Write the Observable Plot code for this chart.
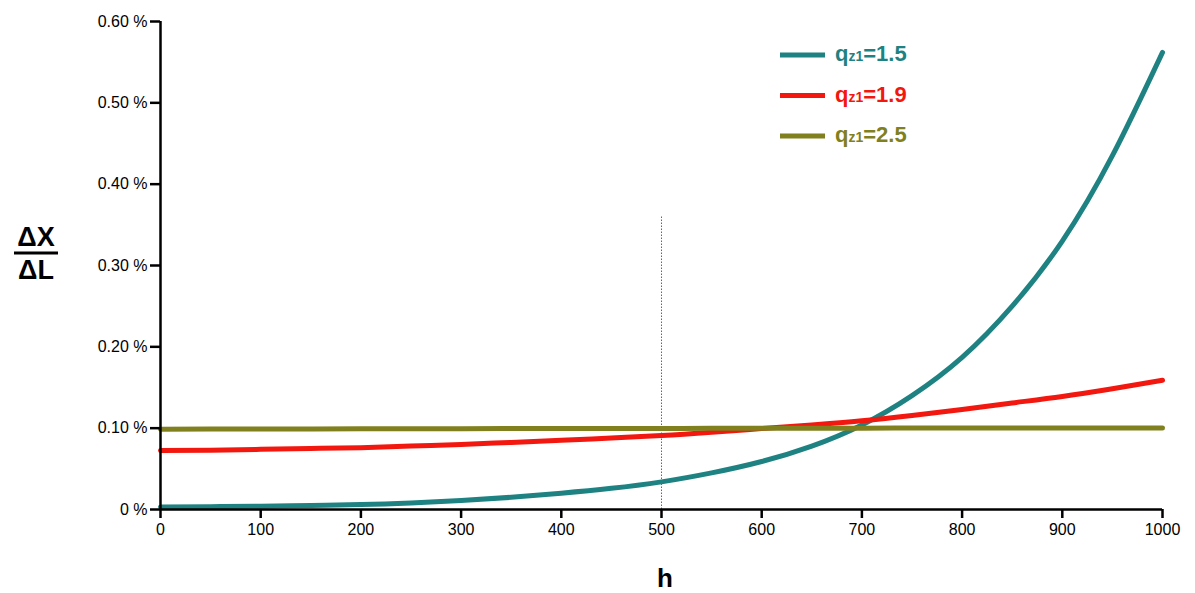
<!DOCTYPE html>
<html>
<head>
<meta charset="utf-8">
<script src="https://cdn.jsdelivr.net/npm/d3@7"></script>
<script src="https://cdn.jsdelivr.net/npm/@observablehq/plot@0.6"></script>
<style>
  html, body { margin: 0; padding: 0; background: #fff; }
  #chart { position: relative; width: 1195px; height: 593px; font-family: "Liberation Sans", Arial, sans-serif; }
  #chart svg { font-family: "Liberation Sans", Arial, sans-serif; overflow: visible; }
</style>
</head>
<body>
<div id="chart"></div>
<script>
// Height h (m) at which each series is sampled
const hValues = [0, 50, 100, 150, 200, 250, 300, 350, 400, 450, 500, 550, 600, 650, 700, 750, 800, 850, 900, 950, 1000];

// ΔX/ΔL in percent for each q_z1
const q15 = [0.003, 0.0035, 0.004, 0.005, 0.006, 0.008, 0.011, 0.015, 0.020, 0.026, 0.034, 0.045, 0.059, 0.078, 0.104, 0.140, 0.187, 0.250, 0.330, 0.435, 0.562];
const q19 = [0.0725, 0.073, 0.074, 0.075, 0.076, 0.078, 0.080, 0.0825, 0.085, 0.088, 0.091, 0.095, 0.0995, 0.104, 0.109, 0.1155, 0.123, 0.131, 0.139, 0.1485, 0.159];
const q25 = [0.0988, 0.0989, 0.099, 0.0991, 0.0992, 0.0993, 0.0994, 0.0995, 0.0996, 0.0997, 0.0997, 0.0998, 0.0999, 0.1, 0.1, 0.1001, 0.1001, 0.1002, 0.1002, 0.1003, 0.1003];

const seriesNames = ["1.5", "1.9", "2.5"];
const seriesColors = ["#1f8282", "#f2180f", "#80801e"];
const yTicks = [0, 0.1, 0.2, 0.3, 0.4, 0.5, 0.6];
const xTicks = [0, 100, 200, 300, 400, 500, 600, 700, 800, 900, 1000];
const markerH = 500;
const markerTop = 0.36;

const rows = [q15, q19, q25].flatMap((vals, i) =>
  vals.map((v, j) => ({ h: hValues[j], v, q: seriesNames[i] }))
);

const fmt = d => d === 0 ? "0 %" : d.toFixed(2) + " %";

const plot = Plot.plot({
  width: 1195,
  height: 593,
  marginLeft: 160,
  marginRight: 33,
  marginTop: 21,
  marginBottom: 84,
  style: { fontSize: "16px", fontFamily: "Liberation Sans, Arial, sans-serif", color: "#000" },
  x: { domain: [0, 1000] },
  y: { domain: [0, 0.6] },
  color: { domain: seriesNames, range: seriesColors },
  marks: [
    Plot.ruleX([markerH], { y1: 0, y2: markerTop, stroke: "#666", strokeWidth: 1, strokeDasharray: "1.5,1.5" }),
    Plot.line(rows, { x: "h", y: "v", z: "q", stroke: "q", strokeWidth: 5, curve: "natural" }),
    Plot.ruleX([0], { y1: 0, y2: 0.6, stroke: "#000", strokeWidth: 2.5 }),
    Plot.ruleY([0], { x1: 0, x2: 1000, stroke: "#000", strokeWidth: 2.5 }),
    Plot.axisY({ ticks: yTicks, tickFormat: fmt, tickSize: 10, tickPadding: 3, strokeWidth: 2.5, fontSize: 16, label: null, stroke: "#000", fill: "#000" }),
    Plot.axisX({ ticks: xTicks, tickFormat: d => String(d), tickSize: 9, tickPadding: 5, strokeWidth: 2.5, fontSize: 16, label: null, stroke: "#000", fill: "#000" })
  ]
});

const root = document.getElementById("chart");
root.appendChild(plot);

const svg = d3.select(plot);

// Axis titles
svg.append("text")
  .attr("x", 665).attr("y", 587)
  .attr("text-anchor", "middle")
  .attr("font-size", 26).attr("font-weight", "bold")
  .text("h");

const yTitle = svg.append("g").attr("font-size", 27).attr("font-weight", "bold").attr("text-anchor", "middle");
yTitle.append("text").attr("x", 36).attr("y", 246).text("ΔX");
yTitle.append("line").attr("x1", 14).attr("x2", 58).attr("y1", 253).attr("y2", 253).attr("stroke", "#000").attr("stroke-width", 3);
yTitle.append("text").attr("x", 36).attr("y", 279).text("ΔL");

// Legend
const legend = svg.append("g").attr("font-weight", "bold").attr("text-anchor", "start");
seriesNames.forEach((name, i) => {
  const cy = 55 + i * 40.5;
  legend.append("line")
    .attr("x1", 780).attr("x2", 825).attr("y1", cy).attr("y2", cy)
    .attr("stroke", seriesColors[i]).attr("stroke-width", 5);
  const t = legend.append("text")
    .attr("x", 835).attr("y", cy + 6)
    .attr("text-anchor", "start")
    .attr("fill", seriesColors[i]).attr("font-size", 22);
  t.append("tspan").text("q");
  t.append("tspan").attr("font-size", 14).text("z1");
  t.append("tspan").text("=" + name);
});
</script>
</body>
</html>
